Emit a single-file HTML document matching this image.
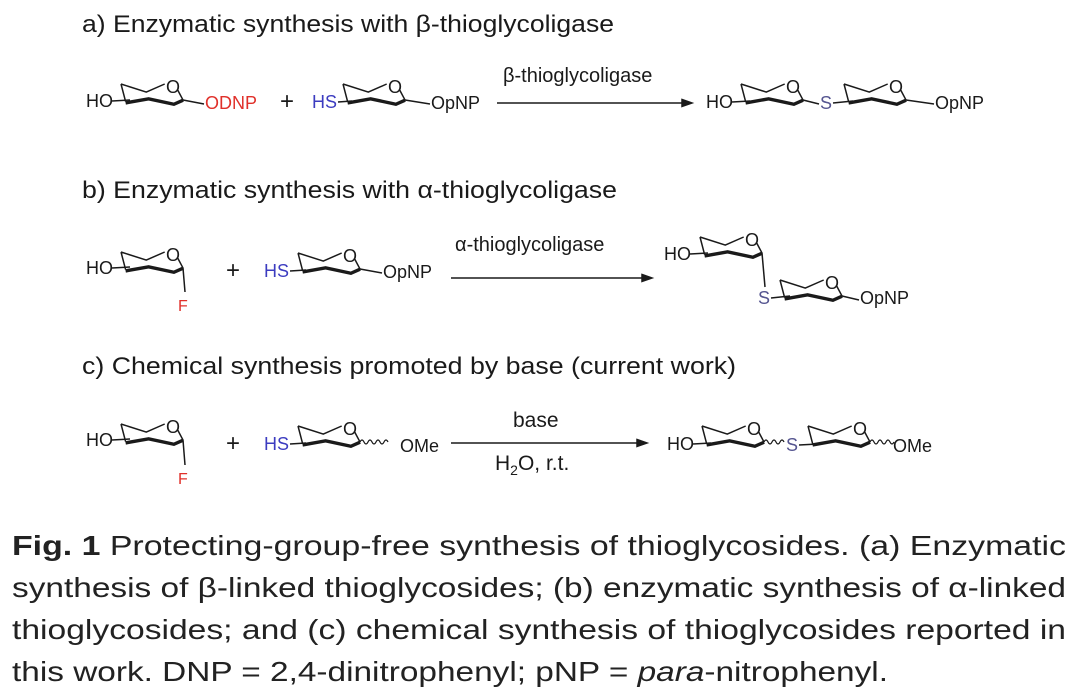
<!DOCTYPE html>
<html><head><meta charset="utf-8"><style>
body{margin:0;background:#fff;width:1080px;height:699px;overflow:hidden}
svg{position:absolute;left:0;top:0}
.h{font-family:"Liberation Sans",sans-serif;font-size:24px;fill:#1a1a1a}
.l{font-family:"Liberation Sans",sans-serif;font-size:18px;fill:#1a1a1a}
.cap{font-family:"Liberation Sans",sans-serif;font-size:28px;fill:#222}
.r{fill:#e0302a}.b{fill:#3c3cc0}.s{fill:#555590}
path{fill:none;stroke:#1a1a1a;stroke-width:1.5}
.bd{stroke-width:3.4}
</style></head><body>
<svg width="1080" height="699" viewBox="0 0 1080 699">
<text class="h" x="82" y="32" textLength="532" lengthAdjust="spacingAndGlyphs">a) Enzymatic synthesis with β-thioglycoligase</text>
<text class="h" x="82" y="198" textLength="535" lengthAdjust="spacingAndGlyphs">b) Enzymatic synthesis with α-thioglycoligase</text>
<text class="h" x="82" y="374" textLength="654" lengthAdjust="spacingAndGlyphs">c) Chemical synthesis promoted by base (current work)</text>

<!-- row a -->
<text class="l" x="86" y="107">HO</text><path d="M112,101 L130,100"/>
<g transform="translate(121,84)"><path vector-effect="non-scaling-stroke" transform="scale(1.15,1.35)" d="M0,0 L22,6 L38,0 M49,4 L54,12 M0,0 L4,13"/><path class="bd" vector-effect="non-scaling-stroke" transform="scale(1.15,1.35)" d="M4,14 L24,11 L46,15 L54,12"/><text class="l" x="45" y="9">O</text></g>
<path d="M183,100 L204,104"/><text class="l r" x="205" y="109">ODNP</text>
<text class="l" x="280" y="109" style="font-size:24px">+</text>
<text class="l b" x="312" y="108">HS</text><path d="M338,102 L352,101"/>
<g transform="translate(343,84)"><path vector-effect="non-scaling-stroke" transform="scale(1.15,1.35)" d="M0,0 L22,6 L38,0 M49,4 L54,12 M0,0 L4,13"/><path class="bd" vector-effect="non-scaling-stroke" transform="scale(1.15,1.35)" d="M4,14 L24,11 L46,15 L54,12"/><text class="l" x="45" y="9">O</text></g>
<path d="M405,100 L430,104"/><text class="l" x="431" y="109">OpNP</text>
<path d="M497,103 L686,103"/><path d="M682,99.5 L692,103 L682,106.5 Z" style="fill:#1a1a1a"/>
<text class="l" x="503" y="82" style="font-size:20px">β-thioglycoligase</text>
<text class="l" x="706" y="108">HO</text><path d="M732,102 L750,101"/>
<g transform="translate(741,84)"><path vector-effect="non-scaling-stroke" transform="scale(1.15,1.35)" d="M0,0 L22,6 L38,0 M49,4 L54,12 M0,0 L4,13"/><path class="bd" vector-effect="non-scaling-stroke" transform="scale(1.15,1.35)" d="M4,14 L24,11 L46,15 L54,12"/><text class="l" x="45" y="9">O</text></g>
<path d="M803,100 L819,104"/><text class="l s" x="820" y="109">S</text><path d="M833,103 L853,101"/>
<g transform="translate(844,84)"><path vector-effect="non-scaling-stroke" transform="scale(1.15,1.35)" d="M0,0 L22,6 L38,0 M49,4 L54,12 M0,0 L4,13"/><path class="bd" vector-effect="non-scaling-stroke" transform="scale(1.15,1.35)" d="M4,14 L24,11 L46,15 L54,12"/><text class="l" x="45" y="9">O</text></g>
<path d="M906,100 L934,104"/><text class="l" x="935" y="109">OpNP</text>

<!-- row b -->
<text class="l" x="86" y="274">HO</text><path d="M112,268 L130,267"/>
<g transform="translate(121,252)"><path vector-effect="non-scaling-stroke" transform="scale(1.15,1.35)" d="M0,0 L22,6 L38,0 M49,4 L54,12 M0,0 L4,13"/><path class="bd" vector-effect="non-scaling-stroke" transform="scale(1.15,1.35)" d="M4,14 L24,11 L46,15 L54,12"/><text class="l" x="45" y="9">O</text></g>
<path d="M183,268 L185,292"/><text class="l r" x="178" y="311" style="font-size:16px">F</text>
<text class="l" x="226" y="278" style="font-size:24px">+</text>
<text class="l b" x="264" y="277">HS</text><path d="M290,271 L306,270"/>
<g transform="translate(298,253)"><path vector-effect="non-scaling-stroke" transform="scale(1.15,1.35)" d="M0,0 L22,6 L38,0 M49,4 L54,12 M0,0 L4,13"/><path class="bd" vector-effect="non-scaling-stroke" transform="scale(1.15,1.35)" d="M4,14 L24,11 L46,15 L54,12"/><text class="l" x="45" y="9">O</text></g>
<path d="M360,269 L382,273"/><text class="l" x="383" y="278">OpNP</text>
<path d="M451,278 L646,278"/><path d="M642,274.5 L652,278 L642,281.5 Z" style="fill:#1a1a1a"/>
<text class="l" x="455" y="251" style="font-size:20px">α-thioglycoligase</text>
<text class="l" x="664" y="260">HO</text><path d="M690,254 L708,253"/>
<g transform="translate(700,237)"><path vector-effect="non-scaling-stroke" transform="scale(1.15,1.35)" d="M0,0 L22,6 L38,0 M49,4 L54,12 M0,0 L4,13"/><path class="bd" vector-effect="non-scaling-stroke" transform="scale(1.15,1.35)" d="M4,14 L24,11 L46,15 L54,12"/><text class="l" x="45" y="9">O</text></g>
<path d="M762,253 L765,287"/><text class="l s" x="758" y="304">S</text><path d="M771,298 L790,296"/>
<g transform="translate(780,280)"><path vector-effect="non-scaling-stroke" transform="scale(1.15,1.35)" d="M0,0 L22,6 L38,0 M49,4 L54,12 M0,0 L4,13"/><path class="bd" vector-effect="non-scaling-stroke" transform="scale(1.15,1.35)" d="M4,14 L24,11 L46,15 L54,12"/><text class="l" x="45" y="9">O</text></g>
<path d="M842,296 L859,300"/><text class="l" x="860" y="304">OpNP</text>

<!-- row c -->
<text class="l" x="86" y="446">HO</text><path d="M112,440 L130,439"/>
<g transform="translate(121,424)"><path vector-effect="non-scaling-stroke" transform="scale(1.15,1.35)" d="M0,0 L22,6 L38,0 M49,4 L54,12 M0,0 L4,13"/><path class="bd" vector-effect="non-scaling-stroke" transform="scale(1.15,1.35)" d="M4,14 L24,11 L46,15 L54,12"/><text class="l" x="45" y="9">O</text></g>
<path d="M183,440 L185,465"/><text class="l r" x="178" y="484" style="font-size:16px">F</text>
<text class="l" x="226" y="451" style="font-size:24px">+</text>
<text class="l b" x="264" y="450">HS</text><path d="M290,444 L306,443"/>
<g transform="translate(298,426)"><path vector-effect="non-scaling-stroke" transform="scale(1.15,1.35)" d="M0,0 L22,6 L38,0 M49,4 L54,12 M0,0 L4,13"/><path class="bd" vector-effect="non-scaling-stroke" transform="scale(1.15,1.35)" d="M4,14 L24,11 L46,15 L54,12"/><text class="l" x="45" y="9">O</text></g>
<path d="M360,442 q2,-4 4,0 q2,4 4,0 q2,-4 4,0 q2,4 4,0 q2,-4 4,0 q2,4 4,0 q2,-4 4,0" style="stroke-width:1.2"/><text class="l" x="400" y="452">OMe</text>
<path d="M451,443 L641,443"/><path d="M637,439.5 L647,443 L637,446.5 Z" style="fill:#1a1a1a"/>
<text class="l" x="513" y="427" style="font-size:21px">base</text>
<text class="l" x="495" y="470" style="font-size:21px">H<tspan dy="5" style="font-size:14px">2</tspan><tspan dy="-5">O, r.t.</tspan></text>
<text class="l" x="667" y="450">HO</text><path d="M693,444 L711,443"/>
<g transform="translate(702,426)"><path vector-effect="non-scaling-stroke" transform="scale(1.15,1.35)" d="M0,0 L22,6 L38,0 M49,4 L54,12 M0,0 L4,13"/><path class="bd" vector-effect="non-scaling-stroke" transform="scale(1.15,1.35)" d="M4,14 L24,11 L46,15 L54,12"/><text class="l" x="45" y="9">O</text></g>
<path d="M764,442 q2,-4 4,0 q2,4 4,0 q2,-4 4,0 q2,4 4,0 q2,-4 4,0" style="stroke-width:1.2"/>
<text class="l s" x="786" y="451">S</text><path d="M799,445 L818,444"/>
<g transform="translate(808,426)"><path vector-effect="non-scaling-stroke" transform="scale(1.15,1.35)" d="M0,0 L22,6 L38,0 M49,4 L54,12 M0,0 L4,13"/><path class="bd" vector-effect="non-scaling-stroke" transform="scale(1.15,1.35)" d="M4,14 L24,11 L46,15 L54,12"/><text class="l" x="45" y="9">O</text></g>
<path d="M870,442 q2,-4 4,0 q2,4 4,0 q2,-4 4,0 q2,4 4,0 q2,-4 4,0 q2,4 4,0" style="stroke-width:1.2"/>
<text class="l" x="893" y="452">OMe</text>

<!-- caption -->
<text class="cap" x="12" y="555" textLength="1054" lengthAdjust="spacingAndGlyphs"><tspan font-weight="bold">Fig. 1</tspan>   Protecting-group-free synthesis of thioglycosides. (a) Enzymatic</text>
<text class="cap" x="12" y="597" textLength="1054" lengthAdjust="spacingAndGlyphs">synthesis of β-linked thioglycosides; (b) enzymatic synthesis of α-linked</text>
<text class="cap" x="12" y="639" textLength="1054" lengthAdjust="spacingAndGlyphs">thioglycosides; and (c) chemical synthesis of thioglycosides reported in</text>
<text class="cap" x="12" y="681" textLength="876" lengthAdjust="spacingAndGlyphs">this work. DNP = 2,4-dinitrophenyl; pNP = <tspan font-style="italic">para</tspan>-nitrophenyl.</text>
</svg>
</body></html>
